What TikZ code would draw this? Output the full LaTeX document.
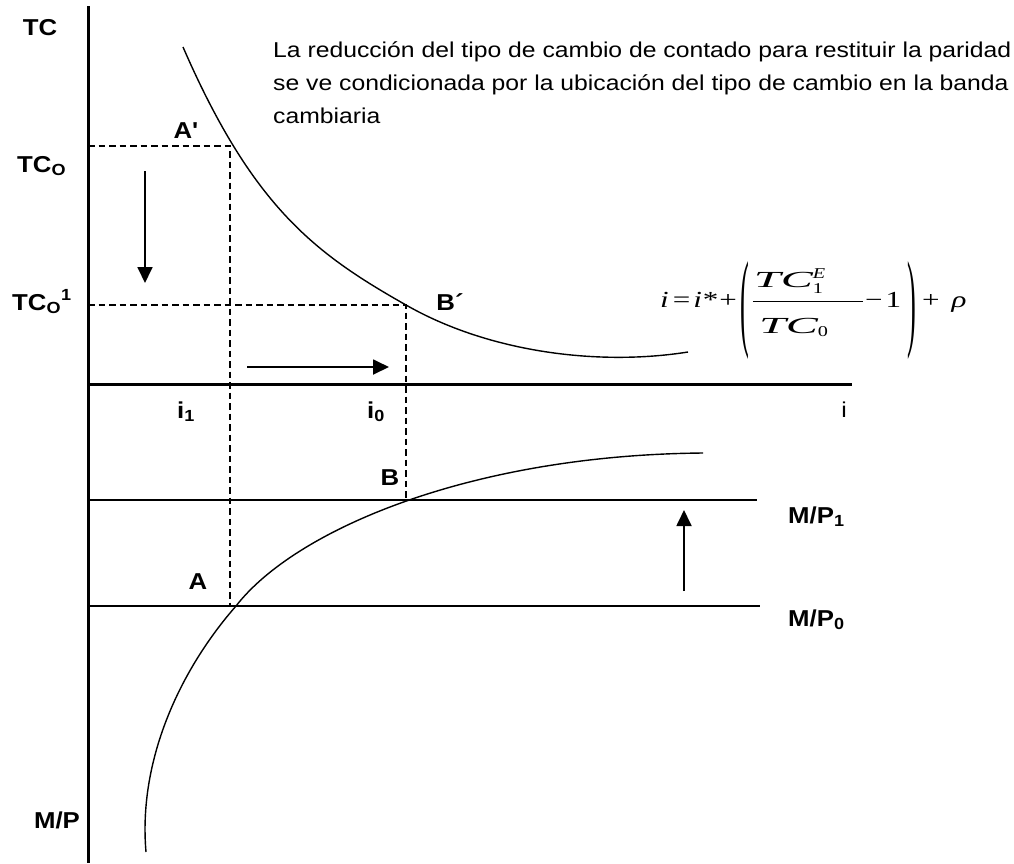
\documentclass[tikz,border=0pt]{standalone}
\usepackage{fontspec}
\setmainfont{Liberation Sans}
\newfontfamily\lbfont{Liberation Sans}[FakeStretch=1.12, Ligatures=TeXOff]
\newfontfamily\pfont{Liberation Sans}[FakeStretch=1.15]
\newfontfamily\eqfont{Liberation Serif}[FakeStretch=1.35]
\newcommand\myscr{\fontsize{15}{15}\selectfont}
\usetikzlibrary{arrows.meta}
\begin{document}
\begin{tikzpicture}[x=1pt,y=-1pt,
  axis/.style={line width=3pt},
  curve/.style={line width=1.4pt},
  guide/.style={line width=1.2pt, dash pattern=on 6.5pt off 4pt},
  level/.style={line width=1.4pt},
  move/.style={line width=1.8pt, -{Triangle[length=16pt,width=15pt]}},
  lab/.style={font=\lbfont\fontsize{23}{25}\selectfont\bfseries, inner sep=0pt},
  para/.style={font=\pfont\fontsize{21.5}{29}\selectfont, align=left, inner sep=0pt, anchor=base west}
]
\useasboundingbox (0,0) rectangle (1014,863);

% axes
\coordinate (ytop) at (88,6);
\coordinate (ybot) at (88,863);
\coordinate (xl) at (88,384);
\coordinate (xr) at (852,384);
\draw[axis] (ytop) -- (ybot);
\draw[axis] (xl) -- (xr);

% key points
\coordinate (Ap) at (230,146);
\coordinate (Bp) at (406,305);
\coordinate (B) at (406,500);
\coordinate (y0) at (88,146);
\coordinate (y1) at (88,305);
\coordinate (AL) at (230,606);
\coordinate (m1l) at (88,500);
\coordinate (m1r) at (757,500);
\coordinate (m0l) at (88,606);
\coordinate (m0r) at (760,606);
\coordinate (c1s) at (183,47);
\coordinate (c1e) at (688,352);
\coordinate (c2s) at (146,852);
\coordinate (c2m) at (236,606);
\coordinate (c2e) at (703,453);

% upper curve
\draw[curve] (c1s) .. controls (253,208) and (316,254) .. (Bp)
  .. controls (490,353) and (600,366) .. (c1e);
% lower curve
\draw[curve] (c2s) .. controls (138,760) and (180,670) .. (c2m)
  .. controls (295,530) and (470,455) .. (c2e);

% guides
\draw[guide] (y0) -- (Ap) -- (AL);
\draw[guide] (y1) -- (Bp) -- (B);

% levels
\draw[level] (m1l) -- (m1r);
\draw[level] (m0l) -- (m0r);

% arrows
\coordinate (d1) at (145,171);
\coordinate (d2) at (145,283);
\coordinate (r1) at (247,367);
\coordinate (r2) at (389,367);
\coordinate (u1) at (684,591);
\coordinate (u2) at (684,510);
\draw[move] (d1) -- (d2);
\draw[move] (r1) -- (r2);
\draw[move] (u1) -- (u2);

% labels
\node[lab] (tc) at (40,28) {TC};
\node[lab, anchor=base west] (tc0) at (17,172) {TC\textsubscript{O}};
\node[lab, anchor=base west] (tc01) at (12,310) {TC\textsubscript{O}\textsuperscript{1}};
\node[lab] (lAp) at (186,131) {A'};
\node[lab] (lBp) at (450,302) {B´};
\node[lab, anchor=base west] (li1) at (177,418) {i\textsubscript{1}};
\node[lab, anchor=base west] (li0) at (367,418) {i\textsubscript{0}};
\node[font=\pfont\fontsize{21.5}{24}\selectfont, inner sep=0pt] (li) at (844,410) {i};
\node[lab] (lB) at (390,478) {B};
\node[lab] (lA) at (198,582) {A};
\node[lab, anchor=base west] (lm1) at (788,523) {M/P\textsubscript{1}};
\node[lab, anchor=base west] (lm0) at (788,626) {M/P\textsubscript{0}};
\node[lab] (lmp) at (57,820) {M/P};

\node[para] (txt) at (273,123) {La reducción del tipo de cambio de contado para restituir la paridad\\[4pt]se ve condicionada por la ubicación del tipo de cambio en la banda\\[4pt]cambiaria};

\node[inner sep=0pt, anchor=base west, font=\eqfont\fontsize{23}{28}\selectfont] (eq) at (660,307)
 {{\itshape i}\hspace{4pt}=\hspace{3pt}{\itshape i}\hspace{1pt}*\hspace{1pt}+\hspace{3pt}\raisebox{-29pt}{\scalebox{0.85}[4.7]{(}}\hspace{3pt}$\displaystyle\frac{\hbox to 110pt{\hspace{1pt}\scalebox{1.55}[1]{\itshape TC}${}^{\hbox{\myscr\itshape E}}_{\hbox{\myscr 1}}$\hfil}\rule[-12pt]{0pt}{0pt}}{\rule{0pt}{31pt}\hbox to 110pt{\hspace{6pt}\scalebox{1.55}[1]{\itshape TC}${}_{\hbox{\myscr 0}}$\hfil}}$\hspace{1pt}−\hspace{3pt}1\hspace{6pt}\raisebox{-29pt}{\scalebox{0.85}[4.7]{)}}\hspace{6pt}+\hspace{12pt}{\itshape ρ}};
\end{tikzpicture}
\end{document}
